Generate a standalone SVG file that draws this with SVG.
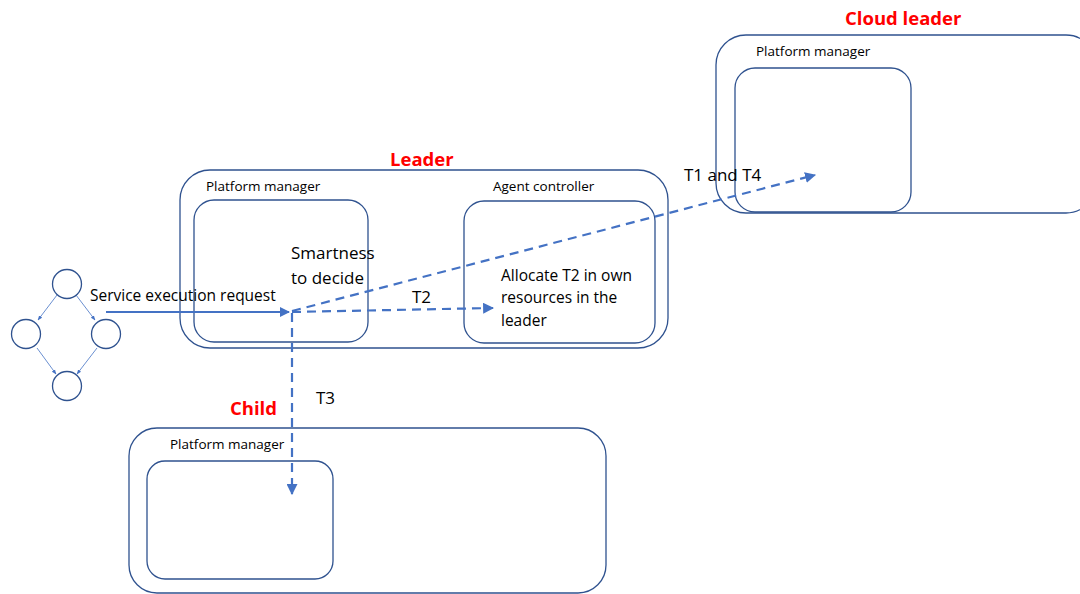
<svg xmlns="http://www.w3.org/2000/svg" width="1080" height="594" viewBox="0 0 1080 594">
  <defs>
    <style>
      .box { fill: none; stroke: #2F528F; stroke-width: 1.3; }
      .circ { fill: #ffffff; stroke: #2F528F; stroke-width: 1.3; }
      .thin { fill: none; stroke: #4472C4; stroke-width: 0.8; }
      .flow { fill: none; stroke: #4472C4; stroke-width: 2; }
      .dash { fill: none; stroke: #4472C4; stroke-width: 2.2; stroke-dasharray: 9 6; }
      .lbl { font-family: "Open Sans", "Liberation Sans", sans-serif; fill: #000000; }
      .small { font-size: 13.5px; }
      .mid { font-size: 15.5px; }
      .big { font-size: 17px; }
      .title { font-family: "Open Sans", "Liberation Sans", sans-serif; font-weight: bold; font-size: 18.5px; fill: #FF0000; }
    </style>
    <marker id="tip" viewBox="0 0 10 10" refX="9" refY="5" markerWidth="5" markerHeight="5" orient="auto">
      <path d="M0,0 L10,5 L0,10 z" fill="#4472C4"/>
    </marker>
    <marker id="tipSmall" viewBox="0 0 10 10" refX="9" refY="5" markerWidth="6" markerHeight="6" orient="auto">
      <path d="M0,1 L10,5 L0,9 z" fill="#4472C4"/>
    </marker>
  </defs>

  <!-- task graph -->
  <g id="workflow">
    <path class="thin" d="M57,295 L38,320" marker-end="url(#tipSmall)"/>
    <path class="thin" d="M76,295 L95,320" marker-end="url(#tipSmall)"/>
    <path class="thin" d="M37,348 L56,374" marker-end="url(#tipSmall)"/>
    <path class="thin" d="M97,348 L77,374" marker-end="url(#tipSmall)"/>
    <circle class="circ" cx="67" cy="284" r="14.5"/>
    <circle class="circ" cx="26" cy="334" r="14.5"/>
    <circle class="circ" cx="106" cy="334" r="14.5"/>
    <circle class="circ" cx="67" cy="386" r="14.5"/>
  </g>

  <!-- leader node -->
  <g id="leader">
    <rect class="box" x="180" y="170" width="488" height="178" rx="30"/>
    <rect class="box" x="194" y="200" width="174" height="142" rx="20"/>
    <rect class="box" x="464" y="201" width="191" height="142" rx="20"/>
    <text class="title" x="390" y="166">Leader </text>
    <text class="lbl small" x="206" y="191">Platform manager</text>
    <text class="lbl small" x="493" y="191">Agent controller</text>
    <text class="lbl big" x="291" y="259">Smartness </text>
    <text class="lbl big" x="291" y="284">to decide</text>
    <text class="lbl mid" x="501" y="281">Allocate T2 in own </text>
    <text class="lbl mid" x="501" y="303">resources in the </text>
    <text class="lbl mid" x="501" y="326">leader </text>
  </g>

  <!-- cloud leader node -->
  <g id="cloud-leader">
    <rect class="box" x="716" y="35" width="380" height="178" rx="30"/>
    <rect class="box" x="735" y="68" width="176" height="144" rx="20"/>
    <text class="title" x="845" y="25">Cloud leader</text>
    <text class="lbl small" x="756" y="56">Platform manager</text>
  </g>

  <!-- child node -->
  <g id="child">
    <rect class="box" x="129" y="428" width="477" height="165" rx="28"/>
    <rect class="box" x="147" y="461" width="186" height="118" rx="18"/>
    <text class="title" x="230" y="415">Child</text>
    <text class="lbl small" x="170" y="449">Platform manager</text>
  </g>

  <!-- connectors -->
  <g id="connectors">
    <path class="flow" d="M106,312 L289,312" marker-end="url(#tip)"/>
    <path class="dash" d="M292,312 L493,308" marker-end="url(#tip)"/>
    <path class="dash" d="M292,311 L815,175" marker-end="url(#tip)"/>
    <path class="dash" d="M292,313 L292,494" marker-end="url(#tip)"/>
    <text class="lbl mid" x="90" y="301">Service execution request</text>
    <text class="lbl big" x="412" y="303">T2</text>
    <text class="lbl big" x="684" y="181">T1 and T4</text>
    <text class="lbl big" x="316" y="404">T3</text>
  </g>
</svg>
